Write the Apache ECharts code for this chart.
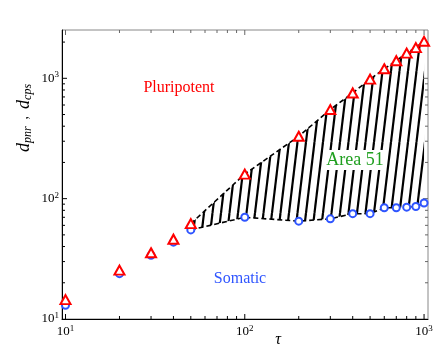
<!DOCTYPE html>
<html>
<head>
<meta charset="utf-8">
<script src="https://cdn.jsdelivr.net/npm/echarts@6/dist/echarts.min.js"></script>
<style>
html, body { margin: 0; padding: 0; background: #fff; }
#chart { width: 436px; height: 348px; }
</style>
</head>
<body>
<div id="chart"></div>
<script>
// values
var taus = [10, 20, 30, 40, 50, 100, 200, 300, 400, 500, 600, 700, 800, 900, 1000];
var pluripotent = [14.5, 25.5, 35.5, 46, 62, 160, 330, 550, 755, 985, 1200, 1400, 1620, 1800, 2030];
var somatic = [13, 23.8, 33.8, 43.5, 55, 70, 65, 68, 75, 75, 84, 84, 85, 86, 92];
var bandStart = 4; // hatched region begins at tau = 50

var xTickVals = [10, 20, 30, 40, 50, 60, 70, 80, 90, 100, 200, 300, 400, 500, 600, 700, 800, 900, 1000];
var yTickVals = [20, 30, 40, 50, 60, 70, 80, 90, 100, 200, 300, 400, 500, 600, 700, 800, 900, 1000, 2000];

var serif = '"Liberation Serif", "DejaVu Serif", serif';

function isPow10(v) {
  var l = Math.log10(v);
  return Math.abs(l - Math.round(l)) < 1e-6;
}
function powLabel(v) {
  if (!isPow10(v)) return '';
  return '{b|10}{s|' + Math.round(Math.log10(v)) + '}';
}

// hatch tile: slanted black strokes
var tile = document.createElement('canvas');
tile.width = 17;
tile.height = 71;
var tctx = tile.getContext('2d');
tctx.strokeStyle = '#000';
tctx.lineWidth = 2.2;
[-17, -8.5, 0, 8.5, 17].forEach(function (x0) {
  tctx.beginPath();
  tctx.moveTo(x0, 71);
  tctx.lineTo(x0 + 8.5, 0);
  tctx.stroke();
});

function pairs(ys, from) {
  var out = [];
  for (var i = from; i < taus.length; i++) out.push([taus[i], ys[i]]);
  return out;
}

var labelRich = {
  b: { fontFamily: serif, fontSize: 13, color: '#000', lineHeight: 16 },
  s: { fontFamily: serif, fontSize: 9, color: '#000', verticalAlign: 'top', lineHeight: 9 }
};

var myChart = echarts.init(document.getElementById('chart'));
myChart.setOption({
  animation: false,
  grid: {
    left: 62, top: 30, width: 366, height: 289,
    show: true, borderColor: '#888', borderWidth: 1
  },
  xAxis: {
    type: 'log',
    logBase: 10,
    min: 9.56,
    max: 1052,
    axisLine: { show: true, lineStyle: { color: '#000', width: 1 } },
    axisTick: { show: false },
    splitLine: { show: false },
    minorTick: { show: false },
    axisLabel: {
      formatter: powLabel, margin: 5, rich: labelRich,
      showMinLabel: false, showMaxLabel: false
    }
  },
  yAxis: {
    type: 'log',
    logBase: 10,
    min: 10,
    max: 2520,
    axisLine: { show: true, lineStyle: { color: '#000', width: 1 } },
    axisTick: { show: false },
    splitLine: { show: false },
    minorTick: { show: false },
    axisLabel: {
      formatter: powLabel, margin: 3, rich: labelRich,
      showMinLabel: true, showMaxLabel: false
    }
  },
  graphic: [
    { type: 'text', x: 179, y: 88, z: 50,
      style: { text: 'Pluripotent', fill: '#ff0000', font: '16px ' + serif, align: 'center', verticalAlign: 'middle' } },
    { type: 'text', x: 355, y: 160, z: 50,
      style: { text: 'Area 51', fill: '#1f9f1f', font: '18px ' + serif, align: 'center', verticalAlign: 'middle',
        backgroundColor: '#fff', padding: [1, 2, 1, 2] } },
    { type: 'text', x: 240, y: 279, z: 50,
      style: { text: 'Somatic', fill: '#2f55ff', font: '16px ' + serif, align: 'center', verticalAlign: 'middle' } },
    { type: 'text', x: 278, y: 340, z: 50,
      style: { text: 'τ', fill: '#000', font: 'italic 16px ' + serif, align: 'center', verticalAlign: 'middle' } },
    { type: 'text', x: 24, y: 118, rotation: Math.PI / 2, z: 50,
      style: {
        text: '{d|d}{s|pnr}{c|  ,  }{d|d}{s|cps}',
        align: 'center', verticalAlign: 'middle',
        rich: {
          d: { fontFamily: serif, fontStyle: 'italic', fontSize: 18, fill: '#000', lineHeight: 20 },
          s: { fontFamily: serif, fontStyle: 'italic', fontSize: 12, fill: '#000', verticalAlign: 'bottom', lineHeight: 14 },
          c: { fontFamily: serif, fontSize: 14, fill: '#000', lineHeight: 20 }
        }
      } }
  ],
  series: [
    {
      // hatched band between the two dashed boundaries
      type: 'custom',
      silent: true,
      z: 1,
      data: [[taus[bandStart], somatic[bandStart]]],
      renderItem: function (params, api) {
        var pts = [];
        var i;
        for (i = bandStart; i < taus.length; i++) pts.push(api.coord([taus[i], pluripotent[i]]));
        for (i = taus.length - 1; i >= bandStart; i--) pts.push(api.coord([taus[i], somatic[i]]));
        return {
          type: 'polygon',
          shape: { points: pts },
          style: { fill: { image: tile, repeat: 'repeat' }, stroke: null }
        };
      }
    },
    {
      type: 'custom',
      silent: true,
      z: 3,
      data: xTickVals.map(function (v) { return [v, 100]; }),
      renderItem: function (params, api) {
        var cs = params.coordSys;
        var x = api.coord([api.value(0), 100])[0];
        var len = isPow10(api.value(0)) ? 5 : 3;
        var yb = cs.y + cs.height, yt = cs.y;
        return {
          type: 'group',
          children: [
            { type: 'line', shape: { x1: x, y1: yb, x2: x, y2: yb - len }, style: { stroke: '#000', lineWidth: 1 } },
            { type: 'line', shape: { x1: x, y1: yt, x2: x, y2: yt + len }, style: { stroke: '#666', lineWidth: 1 } }
          ]
        };
      }
    },
    {
      type: 'custom',
      silent: true,
      z: 3,
      data: yTickVals.map(function (v) { return [100, v]; }),
      renderItem: function (params, api) {
        var cs = params.coordSys;
        var y = api.coord([100, api.value(1)])[1];
        var len = isPow10(api.value(1)) ? 5 : 3;
        var xl = cs.x, xr = cs.x + cs.width;
        return {
          type: 'group',
          children: [
            { type: 'line', shape: { x1: xl, y1: y, x2: xl + len, y2: y }, style: { stroke: '#000', lineWidth: 1 } },
            { type: 'line', shape: { x1: xr, y1: y, x2: xr - len, y2: y }, style: { stroke: '#666', lineWidth: 1 } }
          ]
        };
      }
    },
    {
      name: 'upper boundary',
      type: 'line',
      z: 4,
      symbol: 'none',
      silent: true,
      data: pairs(pluripotent, bandStart),
      lineStyle: { color: '#000', width: 1.6, type: [5, 3] }
    },
    {
      name: 'lower boundary',
      type: 'line',
      z: 4,
      symbol: 'none',
      silent: true,
      data: pairs(somatic, bandStart),
      lineStyle: { color: '#000', width: 1.6, type: [5, 3] }
    },
    {
      name: 'Somatic',
      type: 'scatter',
      z: 5,
      symbol: 'circle',
      symbolSize: 7,
      data: pairs(somatic, 0),
      itemStyle: { color: '#fff', borderColor: '#2f55ff', borderWidth: 2, opacity: 1 }
    },
    {
      name: 'Pluripotent',
      type: 'scatter',
      z: 6,
      symbol: 'triangle',
      symbolSize: [10, 9],
      data: pairs(pluripotent, 0),
      itemStyle: { color: '#fff', borderColor: '#ff0000', borderWidth: 2, opacity: 1 }
    }
  ]
});
</script>
</body>
</html>
